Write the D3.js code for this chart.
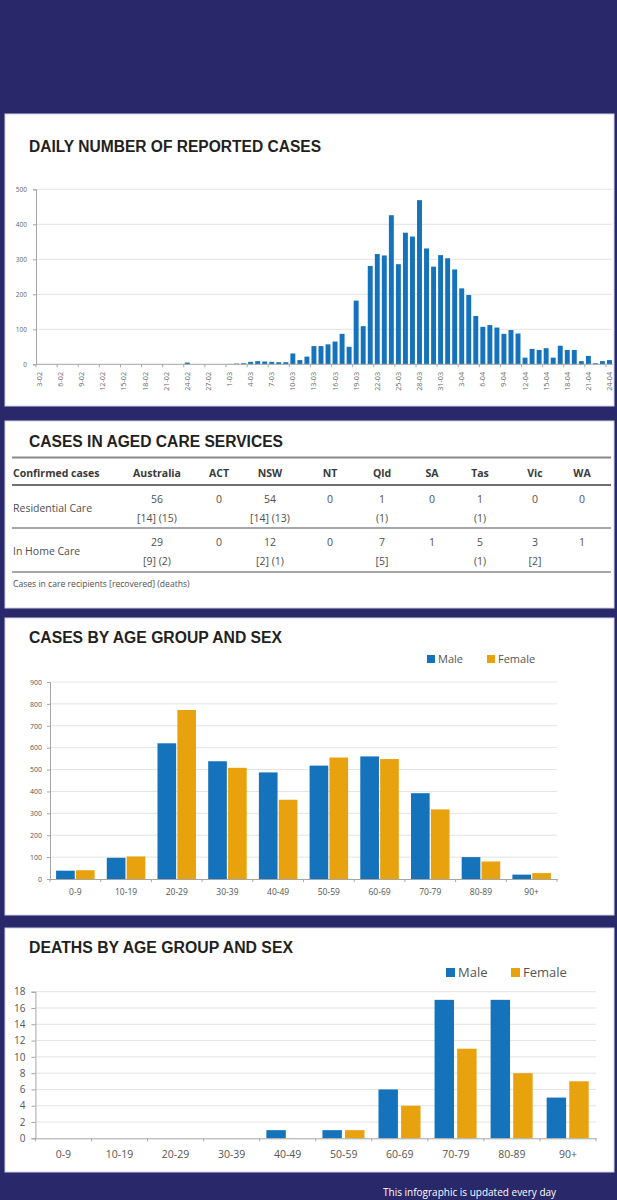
<!DOCTYPE html>
<html>
<head>
<meta charset="utf-8">
<script src="https://cdn.jsdelivr.net/npm/d3@7"></script>
<style>
  body { margin: 0; background: #29286a; }
  svg { display: block; }
</style>
</head>
<body>
<div id="chart"></div>
<script>
// ---- data ----
// daily reported cases, 3 Feb to 24 Apr 2020
const dailyDates = d3.timeDay.range(new Date(2020, 1, 3), new Date(2020, 3, 25)).map(d3.timeFormat("%-d-%m"));
const dailyCases = [
  0, 0, 0, 0, 0, 0, 0, 0, 0, 0, 0, 0, 0, 0, 0, 0, 0, 0, 0, 0, 0,
  5, 0, 0, 0, 0, 0,
  1, 2, 3, 7, 9, 8, 7, 6, 6,
  31, 12, 22, 52, 52, 57, 65, 87, 50,
  182, 109, 281, 315, 311, 426, 286, 376, 365,
  469, 331, 279, 312, 303, 271, 217, 198, 138,
  107, 112, 105, 87, 98, 88, 19, 44, 41,
  46, 19, 53, 41, 41, 9, 24, 3, 9, 12
];
const dailyTicks = ["3-02", "6-02", "9-02", "12-02", "15-02", "18-02", "21-02", "24-02", "27-02",
  "1-03", "4-03", "7-03", "10-03", "13-03", "16-03", "19-03", "22-03", "25-03", "28-03", "31-03",
  "3-04", "6-04", "9-04", "12-04", "15-04", "18-04", "21-04", "24-04"];
const dailyYTicks = [0, 100, 200, 300, 400, 500];

// aged care table
const tableHeader = "Confirmed cases";
const tableStates = ["Australia", "ACT", "NSW", "NT", "Qld", "SA", "Tas", "Vic", "WA"];
const tableRows = ["Residential Care", "In Home Care"];
const residentialCases = ["56", "0", "54", "0", "1", "0", "1", "0", "0"];
const residentialNotes = ["[14] (15)", "", "[14] (13)", "", "(1)", "", "(1)", "", ""];
const homeCases = ["29", "0", "12", "0", "7", "1", "5", "3", "1"];
const homeNotes = ["[9] (2)", "", "[2] (1)", "", "[5]", "", "(1)", "[2]", ""];
const tableNote = "Cases in care recipients [recovered] (deaths)";

// age groups
const ageGroups = ["0-9", "10-19", "20-29", "30-39", "40-49", "50-59", "60-69", "70-79", "80-89", "90+"];
const sexes = ["Male", "Female"];
const casesMale = [38, 97, 620, 538, 487, 518, 560, 392, 100, 20];
const casesFemale = [40, 103, 772, 508, 362, 555, 548, 318, 80, 27];
const casesYTicks = [0, 100, 200, 300, 400, 500, 600, 700, 800, 900];
const deathsMale = [0, 0, 0, 0, 1, 1, 6, 17, 17, 5];
const deathsFemale = [0, 0, 0, 0, 0, 1, 4, 11, 8, 7];
const deathsYTicks = [0, 2, 4, 6, 8, 10, 12, 14, 16, 18];

// ---- layout ----
const width = 617, height = 1200;
const navy = "#29286a";
const blue = "#1573bb";
const orange = "#e8a20d";
const grid = "#e4e4e4";
const axisCol = "#a6a6a6";
const titleFont = "'Liberation Sans', Arial, sans-serif";
const bodyFont = "'Open Sans', 'Noto Sans', sans-serif";

const svg = d3.select("#chart")
  .append("svg")
  .attr("width", width)
  .attr("height", height);

svg.append("rect").attr("width", width).attr("height", height).attr("fill", navy);

// white cards
const panels = [
  { y: 114, h: 292 },
  { y: 421, h: 187 },
  { y: 618, h: 297 },
  { y: 928, h: 244 }
];
svg.selectAll("rect.panel")
  .data(panels)
  .join("rect")
  .attr("class", "panel")
  .attr("x", 5)
  .attr("y", d => d.y)
  .attr("width", 609)
  .attr("height", d => d.h)
  .attr("fill", "white")
  .attr("stroke", "#d2d1e8")
  .attr("stroke-width", 1);

function addTitle(text, x, y, len) {
  svg.append("text")
    .attr("x", x)
    .attr("y", y)
    .attr("textLength", len)
    .attr("lengthAdjust", "spacingAndGlyphs")
    .style("font-family", titleFont)
    .style("font-size", "16px")
    .style("font-weight", "bold")
    .style("fill", "#231f20")
    .text(text);
}

// ---- daily reported cases ----
addTitle("DAILY NUMBER OF REPORTED CASES", 29, 152, 292);

const dX = d3.scaleBand()
  .domain(dailyDates)
  .range([36, 613])
  .paddingInner(0.3)
  .paddingOuter(0.15);
const dY = d3.scaleLinear().domain([0, 500]).range([364.3, 189.3]);
const tickPos = d => dX(d) - dX.step() * 0.15;

svg.append("g")
  .selectAll("line")
  .data(dailyYTicks.slice(1))
  .join("line")
  .attr("x1", 36).attr("x2", 612)
  .attr("y1", d => dY(d)).attr("y2", d => dY(d))
  .attr("stroke", grid);

svg.append("g")
  .selectAll("rect")
  .data(dailyCases)
  .join("rect")
  .attr("x", (d, i) => dX(dailyDates[i]))
  .attr("width", dX.bandwidth())
  .attr("y", d => dY(d))
  .attr("height", d => dY(0) - dY(d))
  .attr("fill", blue);

const dyAxis = svg.append("g")
  .attr("transform", "translate(36,0)")
  .call(d3.axisLeft(dY).tickValues(dailyYTicks).tickSize(3).tickPadding(6));
dyAxis.selectAll("line, path").attr("stroke", axisCol);
dyAxis.selectAll("text").style("font-family", bodyFont).style("font-size", "6.5px").style("fill", "#666");

svg.append("line")
  .attr("x1", 36).attr("x2", 613)
  .attr("y1", dY(0)).attr("y2", dY(0))
  .attr("stroke", axisCol);

svg.append("g")
  .selectAll("line")
  .data(dailyTicks)
  .join("line")
  .attr("x1", tickPos).attr("x2", tickPos)
  .attr("y1", dY(0)).attr("y2", dY(0) + 3)
  .attr("stroke", axisCol);

svg.append("g")
  .selectAll("text")
  .data(dailyTicks)
  .join("text")
  .attr("transform", d => `translate(${dX(d) + dX.bandwidth() / 2},372) rotate(-90)`)
  .attr("text-anchor", "end")
  .attr("dy", "0.35em")
  .style("font-family", bodyFont)
  .style("font-size", "7.2px")
  .style("fill", "#666")
  .text(d => d);

// ---- aged care table ----
addTitle("CASES IN AGED CARE SERVICES", 29, 447, 254);

const colX = [157, 219, 270, 330, 382, 432, 480, 535, 582];
const rule = (y, w, c) => svg.append("line")
  .attr("x1", 12).attr("x2", 611)
  .attr("y1", y).attr("y2", y)
  .attr("stroke", c).attr("stroke-width", w);
rule(457.5, 2, "#8a8a8a");
rule(485, 2, "#6f6f6f");
rule(528, 1.5, "#8a8a8a");
rule(572, 1.5, "#8a8a8a");

const table = svg.append("g")
  .style("font-family", bodyFont)
  .style("fill", "#505050");

table.append("text")
  .attr("x", 13).attr("y", 477)
  .style("font-size", "10.5px").style("font-weight", "bold").style("fill", "#3a3a3a")
  .text(tableHeader);
table.selectAll("text.state")
  .data(tableStates)
  .join("text")
  .attr("class", "state")
  .attr("x", (d, i) => colX[i]).attr("y", 477)
  .attr("text-anchor", "middle")
  .style("font-size", "10.5px").style("font-weight", "bold").style("fill", "#3a3a3a")
  .text(d => d);

const rowData = [
  { label: tableRows[0], cases: residentialCases, notes: residentialNotes, y: 503 },
  { label: tableRows[1], cases: homeCases, notes: homeNotes, y: 546 }
];
rowData.forEach(r => {
  table.append("text")
    .attr("x", 13).attr("y", r.y + 9)
    .style("font-size", "10.5px")
    .text(r.label);
  table.append("g").selectAll("text")
    .data(r.cases)
    .join("text")
    .attr("x", (d, i) => colX[i]).attr("y", r.y)
    .attr("text-anchor", "middle")
    .style("font-size", "10.5px")
    .text(d => d);
  table.append("g").selectAll("text")
    .data(r.notes)
    .join("text")
    .attr("x", (d, i) => colX[i]).attr("y", r.y + 18.5)
    .attr("text-anchor", "middle")
    .style("font-size", "10.5px")
    .text(d => d);
});

table.append("text")
  .attr("x", 13).attr("y", 587)
  .style("font-size", "8.6px")
  .text(tableNote);

// ---- grouped bar charts ----
function groupedChart(o) {
  const x0 = d3.scaleBand().domain(ageGroups).range(o.xRange);
  const bw = x0.bandwidth();
  const x1 = d3.scaleBand().domain(sexes).range([bw * o.inner[0], bw * o.inner[1]]).paddingInner(o.gap);
  const y = d3.scaleLinear().domain([0, o.ticks[o.ticks.length - 1]]).range(o.yRange);
  const colour = d3.scaleOrdinal().domain(sexes).range([blue, orange]);

  svg.append("g")
    .selectAll("line")
    .data(o.ticks.slice(1))
    .join("line")
    .attr("x1", o.xRange[0]).attr("x2", o.xRange[1])
    .attr("y1", d => y(d)).attr("y2", d => y(d))
    .attr("stroke", grid);

  const rows = ageGroups.map((g, i) => ({ group: g, Male: o.male[i], Female: o.female[i] }));
  svg.append("g")
    .selectAll("g")
    .data(rows)
    .join("g")
    .attr("transform", d => `translate(${x0(d.group)},0)`)
    .selectAll("rect")
    .data(d => sexes.map(s => ({ sex: s, value: d[s] })))
    .join("rect")
    .attr("x", d => x1(d.sex))
    .attr("width", x1.bandwidth())
    .attr("y", d => y(d.value))
    .attr("height", d => y(0) - y(d.value))
    .attr("fill", d => colour(d.sex));

  const yAxis = svg.append("g")
    .attr("transform", `translate(${o.xRange[0]},0)`)
    .call(d3.axisLeft(y).tickValues(o.ticks).tickSize(o.tickSize).tickPadding(o.tickPad));
  yAxis.selectAll("line, path").attr("stroke", axisCol);
  yAxis.selectAll("text").style("font-family", bodyFont).style("font-size", o.yFont).style("fill", "#555");

  const xAxis = svg.append("g")
    .attr("transform", `translate(0,${y(0)})`)
    .call(d3.axisBottom(x0).tickSize(0).tickPadding(o.xPad));
  xAxis.select("path").attr("stroke", axisCol);
  xAxis.selectAll("text").style("font-family", bodyFont).style("font-size", o.xFont).style("fill", "#555");
  svg.append("g")
    .selectAll("line")
    .data(ageGroups)
    .join("line")
    .attr("x1", d => x0(d)).attr("x2", d => x0(d))
    .attr("y1", y(0)).attr("y2", y(0) + 3)
    .attr("stroke", axisCol);
  svg.append("line")
    .attr("x1", o.xRange[1]).attr("x2", o.xRange[1])
    .attr("y1", y(0)).attr("y2", y(0) + 3)
    .attr("stroke", axisCol);

  // legend
  const legend = svg.append("g")
    .selectAll("g")
    .data(sexes)
    .join("g")
    .attr("transform", (d, i) => `translate(${o.legendX[i]},${o.legendY})`);
  legend.append("rect")
    .attr("x", 0).attr("y", -o.sq / 2)
    .attr("width", o.sq).attr("height", o.sq)
    .attr("fill", d => colour(d));
  legend.append("text")
    .attr("x", o.sq + 3)
    .attr("dy", "0.35em")
    .style("font-family", bodyFont)
    .style("font-size", o.legendFont)
    .style("fill", "#555")
    .text(d => d);
}

addTitle("CASES BY AGE GROUP AND SEX", 29, 643, 253);
groupedChart({
  male: casesMale, female: casesFemale, ticks: casesYTicks,
  xRange: [50, 557], yRange: [879, 682],
  inner: [0.12, 0.88], gap: 0.06,
  tickSize: 3, tickPad: 5, yFont: "7px", xFont: "8.5px", xPad: 10,
  legendX: [427, 487], legendY: 659, sq: 8, legendFont: "11px"
});

addTitle("DEATHS BY AGE GROUP AND SEX", 29, 953, 264);
groupedChart({
  male: deathsMale, female: deathsFemale, ticks: deathsYTicks,
  xRange: [35.4, 596], yRange: [1138.3, 991.7],
  inner: [0.12, 0.87], gap: 0.14,
  tickSize: 4, tickPad: 6, yFont: "10px", xFont: "10.5px", xPad: 12,
  legendX: [446, 511], legendY: 972.5, sq: 9, legendFont: "13px"
});

// footer line at the bottom edge
svg.append("text")
  .attr("x", 383).attr("y", 1196)
  .style("font-family", bodyFont)
  .style("font-size", "10px")
  .style("fill", "white")
  .text("This infographic is updated every day");
</script>
</body>
</html>
